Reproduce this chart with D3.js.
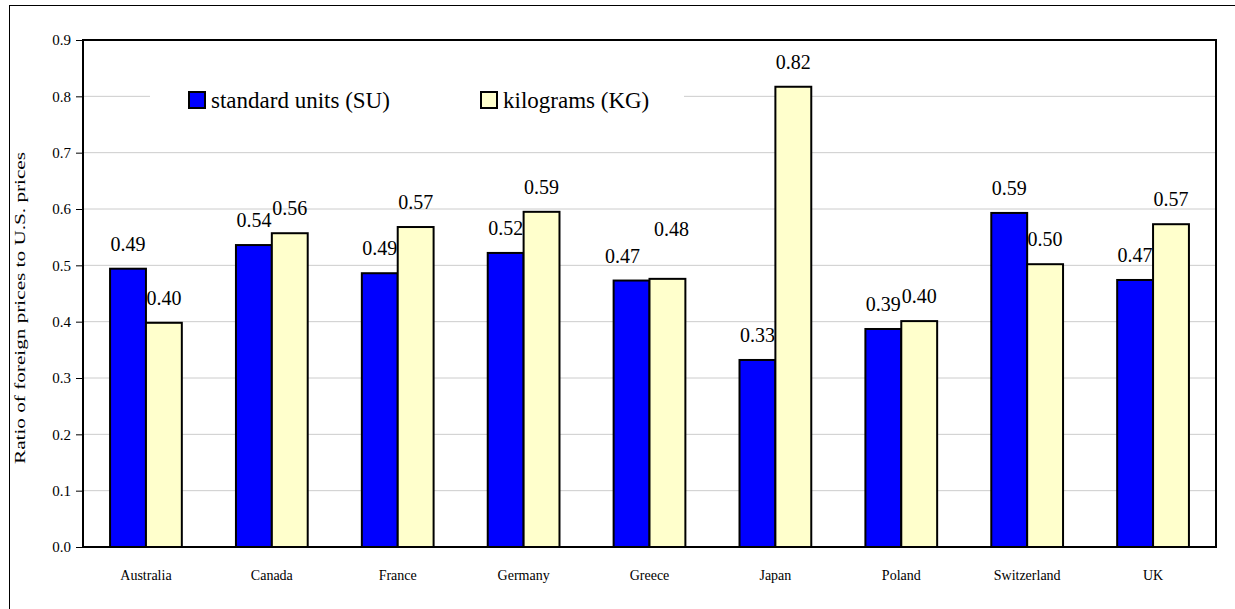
<!DOCTYPE html>
<html>
<head>
<meta charset="utf-8">
<script src="https://cdn.jsdelivr.net/npm/d3@7"></script>
<style>
  html, body { margin: 0; padding: 0; background: #fff; }
  svg { display: block; font-family: "Liberation Serif", "Times New Roman", serif; }
</style>
</head>
<body>
<svg id="chart" width="1235" height="609"></svg>
<script>
// Price ratios by country, two measurement bases
const countries = ["Australia", "Canada", "France", "Germany", "Greece", "Japan", "Poland", "Switzerland", "UK"];
const seriesNames = ["standard units (SU)", "kilograms (KG)"];
const standardUnits = [0.494, 0.536, 0.486, 0.522, 0.473, 0.332, 0.387, 0.593, 0.474];
const kilograms = [0.398, 0.557, 0.568, 0.595, 0.476, 0.817, 0.401, 0.502, 0.573];
const yTicks = [0.0, 0.1, 0.2, 0.3, 0.4, 0.5, 0.6, 0.7, 0.8, 0.9];
const yTitle = "Ratio of foreign prices to U.S. prices";

const colors = ["#0000ff", "#ffffcc"];
const serif = "Liberation Serif, Times New Roman, serif";

// Labels that would collide are nudged apart (key: "country|seriesIndex")
const labelNudge = { "Greece|0": [-9, 0], "Greece|1": [4, -25] };

const svg = d3.select("#chart");

// Outer chart frame
svg.append("rect")
  .attr("x", 9.5).attr("y", 5.5)
  .attr("width", 1240).attr("height", 620)
  .attr("fill", "none").attr("stroke", "#000").attr("stroke-width", 1);

const plot = { left: 83, top: 40, right: 1216, bottom: 547 };

const y = d3.scaleLinear().domain([0, 0.9]).range([plot.bottom, plot.top]);
const x0 = d3.scaleBand().domain(countries)
  .range([plot.left, plot.right])
  .paddingInner(0.43).paddingOuter(0.215);
const x1 = d3.scaleBand().domain([0, 1]).range([0, x0.bandwidth()]);

// Gridlines
svg.append("g").selectAll("line")
  .data(yTicks.filter(t => t > 0 && t < 0.9))
  .join("line")
  .attr("x1", plot.left).attr("x2", plot.right)
  .attr("y1", d => y(d)).attr("y2", d => y(d))
  .attr("stroke", "#cccccc").attr("stroke-width", 1);

// Legend backdrop
svg.append("rect")
  .attr("x", 150).attr("y", 76)
  .attr("width", 534).attr("height", 50)
  .attr("fill", "#fff");

// Bars
const rows = countries.map((c, i) => ({ country: c, values: [standardUnits[i], kilograms[i]] }));
const groups = svg.append("g").selectAll("g")
  .data(rows).join("g")
  .attr("transform", d => `translate(${x0(d.country)},0)`);

const cells = d => d.values.map((v, k) => ({ v, k, country: d.country }));

groups.selectAll("rect")
  .data(cells)
  .join("rect")
  .attr("x", d => x1(d.k))
  .attr("y", d => y(d.v))
  .attr("width", x1.bandwidth())
  .attr("height", d => y(0) - y(d.v))
  .attr("fill", d => colors[d.k])
  .attr("stroke", "#000").attr("stroke-width", 2);

// Value labels
const nudge = d => labelNudge[d.country + "|" + d.k] || [0, 0];
groups.selectAll("text")
  .data(cells)
  .join("text")
  .attr("x", d => x1(d.k) + x1.bandwidth() / 2 + nudge(d)[0])
  .attr("y", d => y(d.v) - 18 + nudge(d)[1])
  .attr("text-anchor", "middle")
  .attr("font-family", serif)
  .attr("font-size", 20)
  .attr("fill", "#000")
  .text(d => d.v.toFixed(2));

// Plot area border
svg.append("rect")
  .attr("x", plot.left).attr("y", plot.top)
  .attr("width", plot.right - plot.left).attr("height", plot.bottom - plot.top)
  .attr("fill", "none").attr("stroke", "#000").attr("stroke-width", 2);

// Y axis
const yAxis = d3.axisLeft(y).tickValues(yTicks).tickFormat(d3.format(".1f")).tickSize(7).tickPadding(5);
const ya = svg.append("g").attr("transform", `translate(${plot.left},0)`).call(yAxis);
ya.attr("font-family", serif);
ya.select(".domain").remove();
ya.selectAll("line").attr("stroke", "#000").attr("stroke-width", 1);
ya.selectAll("text").attr("font-size", 15).attr("fill", "#000");

// X axis labels
const xAxis = d3.axisBottom(x0).tickSize(0).tickPadding(23);
const xa = svg.append("g").attr("transform", `translate(0,${plot.bottom})`).call(xAxis);
xa.attr("font-family", serif);
xa.select(".domain").remove();
xa.selectAll("text").attr("font-size", 14).attr("fill", "#000");

// Y title
svg.append("text")
  .attr("transform", `translate(25,308) rotate(-90)`)
  .attr("text-anchor", "middle")
  .attr("font-family", serif)
  .attr("font-size", 14)
  .attr("textLength", 312)
  .attr("lengthAdjust", "spacingAndGlyphs")
  .attr("fill", "#000")
  .text(yTitle);

// Legend
const legendItems = [
  { name: seriesNames[0], color: colors[0], x: 189 },
  { name: seriesNames[1], color: colors[1], x: 481 }
];
const lg = svg.append("g").selectAll("g").data(legendItems).join("g")
  .attr("transform", d => `translate(${d.x},92)`);
lg.append("rect")
  .attr("width", 16).attr("height", 16)
  .attr("fill", d => d.color)
  .attr("stroke", "#000").attr("stroke-width", 2);
lg.append("text")
  .attr("x", 22).attr("y", 16)
  .attr("font-family", serif)
  .attr("font-size", 23)
  .attr("fill", "#000")
  .text(d => d.name);
</script>
</body>
</html>
